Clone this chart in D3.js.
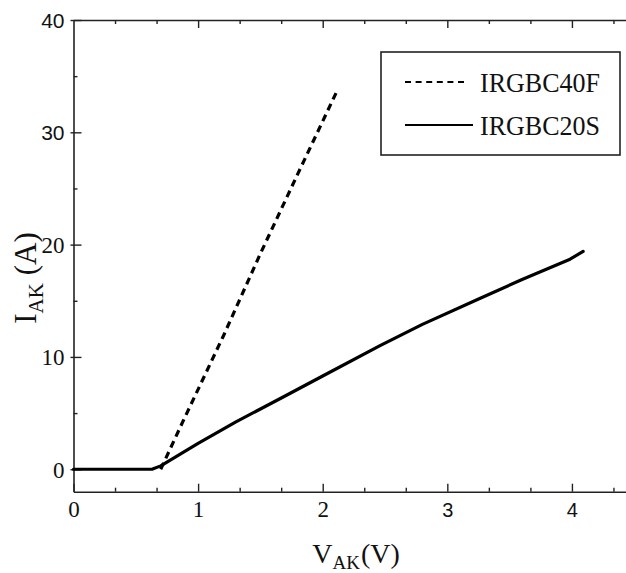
<!DOCTYPE html>
<html>
<head>
<meta charset="utf-8">
<script src="https://cdn.jsdelivr.net/npm/d3@7"></script>
<style>
  body { margin: 0; background: #fff; }
  svg { display: block; }
</style>
</head>
<body>
<div id="canvas"></div>
<script>
// DATA
const seriesNames = ["IRGBC40F", "IRGBC20S"];

const v40F = [0.70, 0.88, 1.20, 1.50, 1.80, 2.12];
const i40F = [0.0, 4.3, 11.8, 19.2, 26.3, 33.8];

const v20S = [0, 0.63, 0.70, 0.85, 1.00, 1.30, 1.66, 2.00, 2.46, 2.80, 3.26, 3.60, 3.985, 4.09];
const i20S = [0, 0.0, 0.3, 1.3, 2.3, 4.2, 6.3, 8.3, 11.0, 12.9, 15.2, 16.9, 18.7, 19.4];

const xMajor = [0, 1, 2, 3, 4];
const xMinor = [1/3, 2/3, 4/3, 5/3, 7/3, 8/3, 10/3, 11/3, 13/3];
const yMajor = [0, 10, 20, 30, 40];
const yMinor = [5, 15, 25, 35];
// labels that were printed in a sans face in the original scan
const sansLabels = ["40", "30", "3", "4"];

// DIMENSIONS
const width = 626;
const height = 573;

const x = d3.scaleLinear().domain([0, 4.45]).range([73.5, 628]);
const y = d3.scaleLinear().domain([-2, 40]).range([491.7, 20]);

const serif = "Liberation Serif, Times New Roman, serif";
const sans = "Liberation Sans, Arial, sans-serif";

// CANVAS
const svg = d3.select("#canvas")
  .append("svg")
  .attr("width", width)
  .attr("height", height)
  .style("background", "#fff");

// AXES
function styleAxis(g) {
  g.attr("font-family", serif);
  g.selectAll("path.domain").attr("stroke", "#222").attr("stroke-width", 1.6);
  g.selectAll(".tick line").attr("stroke", "#222").attr("stroke-width", 1.4);
}

// bottom
svg.append("g")
  .attr("transform", `translate(0,${y(-2)})`)
  .call(d3.axisBottom(x).tickValues(xMinor).tickSize(-4).tickSizeOuter(0).tickFormat(""))
  .call(styleAxis);
const bottomMajor = svg.append("g")
  .attr("transform", `translate(0,${y(-2)})`)
  .call(d3.axisBottom(x).tickValues(xMajor).tickSize(-8).tickSizeOuter(0).tickFormat(d3.format("d")))
  .call(styleAxis);
bottomMajor.select("path.domain").remove();
bottomMajor.selectAll(".tick text")
  .attr("y", 25)
  .attr("dy", 0)
  .attr("fill", "#111")
  .attr("font-family", d => sansLabels.includes(String(d)) ? sans : serif)
  .attr("font-size", d => sansLabels.includes(String(d)) ? 20 : 23);

// top
svg.append("g")
  .attr("transform", `translate(0,${y(40)})`)
  .call(d3.axisTop(x).tickValues(xMinor).tickSize(-4).tickSizeOuter(0).tickFormat(""))
  .call(styleAxis);
svg.append("g")
  .attr("transform", `translate(0,${y(40)})`)
  .call(d3.axisTop(x).tickValues(xMajor.slice(1)).tickSize(-8).tickSizeOuter(0).tickFormat(""))
  .call(styleAxis)
  .select("path.domain").remove();

// left
svg.append("g")
  .attr("transform", `translate(${x(0)},0)`)
  .call(d3.axisLeft(y).tickValues(yMinor).tickSize(-4).tickSizeOuter(0).tickFormat(""))
  .call(styleAxis);
const leftMajor = svg.append("g")
  .attr("transform", `translate(${x(0)},0)`)
  .call(d3.axisLeft(y).tickValues(yMajor).tickSize(-8).tickSizeOuter(0).tickFormat(d3.format("d")))
  .call(styleAxis);
leftMajor.select("path.domain").remove();
leftMajor.selectAll(".tick line").attr("x1", -3).attr("x2", 8);
leftMajor.selectAll(".tick text")
  .attr("x", -9)
  .attr("dy", "0.34em")
  .attr("fill", "#111")
  .attr("font-family", d => sansLabels.includes(String(d)) ? sans : serif)
  .attr("font-size", d => sansLabels.includes(String(d)) ? 21 : 23);

// LINES
const line = d3.line().x(d => x(d[0])).y(d => y(d[1]));

svg.append("path")
  .datum(v40F.map((v, i) => [v, i40F[i]]))
  .attr("d", line)
  .attr("fill", "none")
  .attr("stroke", "#000")
  .attr("stroke-width", 3.2)
  .attr("stroke-dasharray", "7,5");

svg.append("path")
  .datum(v20S.map((v, i) => [v, i20S[i]]))
  .attr("d", line)
  .attr("fill", "none")
  .attr("stroke", "#000")
  .attr("stroke-width", 3.2)
  .attr("stroke-linejoin", "round")
  .attr("stroke-linecap", "round");

// AXIS TITLES
const xTitle = svg.append("text")
  .attr("x", 356)
  .attr("y", 563)
  .attr("text-anchor", "middle")
  .attr("font-family", serif)
  .attr("font-size", 28)
  .attr("fill", "#111");
xTitle.append("tspan").text("V");
xTitle.append("tspan").attr("dy", 6).attr("font-size", 19).text("AK");
xTitle.append("tspan").attr("dy", -6).attr("dx", 1).text("(V)");

const yTitle = svg.append("text")
  .attr("transform", "translate(36,278) rotate(-90)")
  .attr("text-anchor", "middle")
  .attr("font-family", serif)
  .attr("font-size", 31)
  .attr("fill", "#111");
yTitle.append("tspan").text("I");
yTitle.append("tspan").attr("dy", 7).attr("font-size", 21).text("AK");
yTitle.append("tspan").attr("dy", -7).text(" (A)");

// LEGEND
const legend = svg.append("g");
legend.append("rect")
  .attr("x", 381).attr("y", 52)
  .attr("width", 239).attr("height", 103)
  .attr("fill", "#fff")
  .attr("stroke", "#222")
  .attr("stroke-width", 1.6);

const legendRows = [
  { name: seriesNames[0], dash: "6,4.6", y: 82, x2: 467 },
  { name: seriesNames[1], dash: null, y: 125, x2: 473 }
];
legendRows.forEach(r => {
  legend.append("line")
    .attr("x1", 405).attr("x2", r.x2)
    .attr("y1", r.y).attr("y2", r.y)
    .attr("stroke", "#000")
    .attr("stroke-width", 2.2)
    .attr("stroke-dasharray", r.dash);
  legend.append("text")
    .attr("x", 480)
    .attr("y", r.y + 10)
    .attr("textLength", 120)
    .attr("lengthAdjust", "spacingAndGlyphs")
    .attr("font-family", serif)
    .attr("font-size", 28)
    .attr("fill", "#111")
    .text(r.name);
});
</script>
</body>
</html>
